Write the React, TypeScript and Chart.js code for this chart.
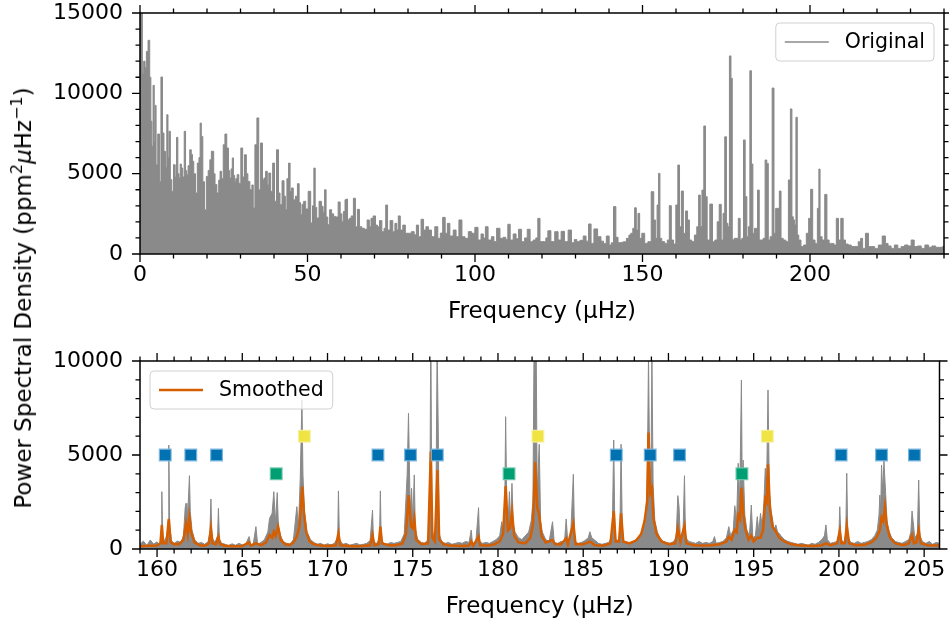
import React, { useEffect, useRef } from 'react';
import { Chart, registerables } from 'chart.js';

Chart.register(...registerables);

const FONT = "'DejaVu Sans', sans-serif";
const GRAY = '#8a8a8a';
const ORANGE = '#d55e00';
const BLUE = '#0072b2';
const YELLOW = '#f0e442';
const GREEN = '#009e73';

// ---------- Top panel: original spectrum, [frequency µHz, PSD] ----------
const TOP_SPECTRUM_LOW: [number, number][] = [
  [0, 16000], [0.5, 15500], [0.9, 11200], [1.3, 12000], [1.7, 11600], [2.1, 12600], [2.7, 13300], [3.1, 11000],
  [3.4, 8260], [3.7, 6700], [4.1, 10500], [4.4, 7000], [4.6, 9250], [5.0, 5560], [5.6, 7470], [6.0, 4520],
  [6.5, 11020], [6.9, 7530], [7.4, 6390], [7.8, 5400], [8.2, 8670], [8.5, 6000], [8.8, 7640], [9.3, 4630],
  [9.7, 3900], [10.3, 5560], [10.7, 4800], [11.1, 7260], [11.5, 5000], [11.8, 4730], [12.2, 5600], [12.5, 5350],
  [13.0, 4800], [13.4, 7640], [13.8, 5200], [14.1, 4940], [14.6, 5500], [15.1, 6490], [15.5, 6200], [15.8, 5770],
  [16.3, 5000], [16.8, 3800], [17.4, 5660], [17.8, 6000], [18.1, 8150], [18.5, 7320], [19.0, 4500], [19.5, 2760],
  [20.1, 4830], [20.6, 5200], [21.1, 5870], [21.5, 6400], [21.8, 6390], [22.2, 5000], [22.6, 4320], [23.3, 3800],
  [23.7, 4600], [24.1, 5150], [24.6, 4700], [25.1, 6800], [25.6, 7470], [26.2, 6600], [26.6, 5200], [27.0, 4730],
  [27.4, 5300], [27.7, 5980], [28.1, 4900], [28.4, 4520], [28.8, 4700], [29.2, 4940], [29.8, 4400], [30.4, 6600],
  [30.9, 4800], [31.5, 6180], [32.0, 5000], [32.4, 4520], [33.2, 4000], [33.6, 4300], [34.0, 2860], [34.6, 6800],
  [35.2, 8470], [35.7, 4000], [36.3, 6910], [36.8, 4600], [37.2, 4730], [37.8, 5150], [38.2, 4300], [38.7, 5040],
  [39.3, 3900], [39.9, 5660], [40.4, 3280], [41.1, 6490], [41.6, 3800], [42.0, 3070], [42.8, 4560], [43.2, 3600],
  [43.6, 2760], [44.1, 4690], [44.6, 5660], [45.0, 3900], [45.4, 4110], [46.1, 3380], [46.7, 3600], [47.3, 4380],
  [47.7, 3200], [48.1, 2450], [48.6, 3100], [49.1, 3280], [49.8, 2800], [50.6, 3900], [51.3, 1930], [51.7, 3000],
  [52.1, 5350], [52.5, 2900], [53.0, 2240], [53.9, 3280], [54.4, 2970], [54.9, 2600], [55.3, 4000], [55.8, 2300],
  [56.3, 1830], [56.9, 2760], [57.5, 2500], [58.1, 2340], [58.8, 2300], [59.5, 3240], [60.0, 2500], [60.5, 2030],
  [60.9, 2640], [61.5, 3380], [61.7, 3420], [62.2, 2120], [62.7, 2220],
];

const TOP_SPECTRUM_MID: [number, number][] = [
  [63.4, 2370], [64.0, 3470], [64.6, 1700], [65.2, 2780], [65.8, 1700], [66.6, 1600], [67.4, 1540], [68.2, 2120],
  [68.7, 1700], [69.2, 2220], [70.0, 2370], [70.6, 1800], [71.2, 1700], [71.8, 2080], [72.6, 1390], [73.1, 1600],
  [73.6, 3050], [74.2, 1490], [75.1, 2080], [75.8, 1390], [76.4, 1910], [76.9, 1500], [77.3, 2370], [78.1, 1490],
  [78.8, 1800], [79.6, 1290], [80.5, 1290], [81.5, 1390], [82.2, 1200], [82.8, 1800], [83.5, 1080], [84.3, 2160],
  [85.0, 1490], [85.7, 1700], [86.5, 1490], [87.5, 1080], [88.5, 1700], [89.3, 975], [90.0, 1300], [90.7, 2280],
  [91.5, 1290], [92.0, 1910], [93.0, 1120], [94.0, 1490], [94.7, 1080], [95.7, 2120], [96.5, 1080], [97.5, 975],
  [98.5, 1390], [99.5, 1290], [100.4, 1660], [101.4, 870], [102.2, 1250], [102.8, 1000], [103.4, 1700], [104.4, 870],
  [105.4, 1080], [105.9, 770], [107.0, 1600], [107.9, 975], [108.9, 1040], [109.5, 900], [110.1, 1850], [110.9, 870],
  [111.9, 1250], [112.6, 950], [113.4, 1540], [114.4, 770], [115.2, 1000], [116.0, 1540], [116.9, 770], [117.8, 870],
  [118.5, 1000], [119.0, 2220], [119.8, 770], [120.8, 770], [121.5, 1000], [122.0, 1450], [123.3, 770], [124.3, 1390],
  [125.3, 870], [126.1, 1410], [127.3, 770], [128.3, 1490], [129.3, 705], [130.0, 900], [130.8, 770], [131.8, 850],
  [132.8, 1120], [133.5, 800], [134.3, 1870], [135.0, 660], [136.0, 1560], [137.2, 1080], [138.0, 800], [138.7, 660],
  [139.7, 1120], [140.4, 560], [141.0, 700], [141.7, 2950], [142.4, 1040],
];

const TOP_SPECTRUM_HIGH: [number, number][] = [
  [143.0, 700], [143.8, 720], [144.7, 760], [145.7, 975], [146.2, 1180], [146.8, 1290], [147.4, 1600], [147.9, 2880],
  [148.4, 1490], [148.9, 2530], [149.4, 975], [150.2, 1290], [151.1, 660], [152.1, 770], [153.1, 3880], [153.6, 2120],
  [154.1, 975], [154.6, 3050], [155.0, 5020], [155.4, 975], [156.1, 770], [157.1, 660], [157.7, 870], [158.3, 3010],
  [158.9, 870], [159.6, 620], [160.3, 3050], [160.8, 5540], [161.3, 1700], [161.9, 3920], [162.5, 1290], [163.2, 2680],
  [163.7, 2120], [164.3, 870], [165.1, 770], [165.9, 1180], [166.5, 1700], [167.0, 3670], [167.5, 1700], [168.0, 3980],
  [168.6, 7970], [169.0, 3570], [169.6, 870], [170.6, 3110], [171.2, 770], [172.0, 870], [172.6, 2010], [173.2, 3090],
  [173.8, 870], [174.3, 2530], [174.8, 7300], [175.3, 1910], [175.7, 1700], [176.2, 12330], [176.6, 10940], [177.0, 870],
  [177.7, 975], [178.3, 975], [178.9, 2220], [179.4, 870], [179.9, 975], [180.4, 7100], [180.9, 3570], [181.4, 1080],
  [181.8, 1700], [182.3, 11410], [182.7, 5600], [183.2, 1290], [183.7, 1600], [184.1, 1600], [184.6, 3980], [185.1, 870],
  [185.7, 870], [186.3, 975], [186.9, 5850], [187.3, 5640], [187.8, 870], [188.4, 1080], [189.0, 10330], [189.5, 1290],
  [190.0, 2840], [190.6, 2840], [191.1, 3920], [191.6, 975], [192.4, 870], [193.2, 770], [193.9, 4610], [194.4, 9030],
  [194.8, 2320], [195.2, 2120], [195.6, 1810], [196.0, 8510], [196.4, 1180], [196.9, 870], [197.7, 460], [198.5, 560],
  [199.3, 1290], [199.9, 2220], [200.5, 4030], [201.1, 870], [201.9, 660], [202.5, 2840], [202.8, 5290], [203.2, 1080],
  [204.0, 870], [204.8, 3710], [205.3, 870], [206.1, 660], [206.8, 660], [207.5, 560], [208.2, 2220], [208.8, 870],
  [209.6, 2220], [210.2, 870], [211.0, 620], [211.8, 560], [212.8, 460], [214.0, 460], [214.8, 770], [215.4, 975],
  [216.0, 350], [217.1, 1290], [217.8, 460], [218.8, 460], [219.8, 350], [221.0, 560], [222.1, 1120], [222.9, 660],
  [223.7, 500], [224.7, 350], [225.7, 560], [226.7, 350], [227.7, 460], [228.8, 560], [229.7, 500], [230.7, 870],
  [231.5, 460], [232.7, 500], [233.7, 350], [234.9, 560], [235.9, 420], [236.9, 500], [238.1, 415], [239.1, 415],
  [240, 460],
];

// ---------- Bottom panel: zoom on the oscillation modes ----------
const ZOOM_ORIGINAL: [number, number][] = [
  [159.0, 250], [159.2, 420], [159.4, 180], [159.6, 480], [159.8, 260], [160.0, 380], [160.15, 200], [160.24, 600],
  [160.28, 3050], [160.33, 700], [160.45, 400], [160.6, 800], [160.65, 1500], [160.69, 5530], [160.74, 1200], [160.85, 450],
  [161.0, 300], [161.2, 420], [161.4, 350], [161.55, 700], [161.65, 2200], [161.7, 2430], [161.75, 1500], [161.82, 2250],
  [161.9, 3900], [161.95, 1990], [162.05, 1000], [162.2, 500], [162.4, 300], [162.6, 350], [162.8, 250], [163.0, 400],
  [163.1, 900], [163.16, 2660], [163.22, 600], [163.4, 350], [163.55, 700], [163.6, 2160], [163.66, 500], [163.8, 300],
  [164.0, 250], [164.2, 180], [164.4, 280], [164.6, 200], [164.8, 300], [165.0, 220], [165.2, 250], [165.4, 660],
  [165.5, 200], [165.65, 300], [165.8, 1190], [165.9, 250], [166.1, 350], [166.3, 500], [166.5, 900], [166.6, 1630],
  [166.75, 1900], [166.85, 3050], [166.95, 1400], [167.05, 3000], [167.12, 1200], [167.25, 700], [167.4, 400], [167.6, 300],
  [167.8, 250], [168.0, 500], [168.2, 2250], [168.3, 1200], [168.4, 3760], [168.5, 7930], [168.56, 3940], [168.65, 2000],
  [168.8, 900], [169.0, 500], [169.2, 350], [169.4, 250], [169.6, 300], [169.8, 200], [170.0, 280], [170.2, 220],
  [170.4, 300], [170.6, 600], [170.64, 3090], [170.7, 500], [170.9, 250], [171.1, 300], [171.3, 200], [171.5, 250],
  [171.7, 300], [171.9, 220], [172.1, 250], [172.3, 300], [172.5, 450], [172.64, 2070], [172.7, 350], [172.9, 300],
  [173.05, 600], [173.1, 3090], [173.15, 500], [173.3, 300], [173.5, 250], [173.7, 350], [173.9, 300], [174.1, 350],
  [174.3, 400], [174.5, 800], [174.67, 3940], [174.75, 7220], [174.85, 2000], [174.93, 3230], [175.0, 1500], [175.09, 3940],
  [175.15, 1000], [175.3, 500], [175.5, 350], [175.7, 300], [175.9, 500], [176.0, 1500], [176.06, 12300], [176.12, 1200],
  [176.25, 500], [176.35, 1000], [176.43, 10900], [176.5, 6060], [176.55, 800], [176.7, 400], [176.9, 300], [177.1, 350],
  [177.3, 250], [177.5, 300], [177.7, 350], [177.9, 300], [178.1, 400], [178.3, 350], [178.43, 1010], [178.5, 300],
  [178.7, 350], [178.86, 2200], [178.92, 400], [179.1, 300], [179.3, 350], [179.5, 300], [179.7, 400], [179.9, 500],
  [180.1, 700], [180.22, 1450], [180.3, 900], [180.4, 2500], [180.45, 7040], [180.52, 2000], [180.6, 1500], [180.67, 3050],
  [180.74, 1200], [180.82, 3490], [180.9, 1300], [181.0, 900], [181.2, 600], [181.4, 500], [181.6, 700], [181.8, 900],
  [181.95, 1500], [182.05, 2500], [182.12, 11400], [182.18, 11400], [182.24, 11000], [182.3, 3000], [182.42, 5570], [182.5, 1500],
  [182.6, 900], [182.8, 500], [183.0, 400], [183.2, 1450], [183.3, 350], [183.5, 300], [183.7, 400], [183.9, 350],
  [184.0, 1600], [184.1, 300], [184.25, 400], [184.42, 3970], [184.5, 400], [184.7, 300], [184.9, 350], [185.1, 450],
  [185.3, 600], [185.39, 920], [185.5, 600], [185.7, 450], [185.9, 300], [186.1, 250], [186.3, 300], [186.5, 350],
  [186.7, 700], [186.79, 5800], [186.86, 600], [187.0, 400], [187.15, 700], [187.22, 5570], [187.3, 500], [187.5, 350],
  [187.7, 300], [187.9, 400], [188.1, 500], [188.3, 700], [188.5, 1000], [188.65, 1800], [188.75, 3000], [188.83, 10330],
  [188.9, 4000], [188.97, 3500], [189.03, 10300], [189.1, 3400], [189.2, 1500], [189.35, 900], [189.5, 600], [189.7, 400],
  [189.9, 350], [190.1, 300], [190.3, 400], [190.45, 600], [190.55, 2840], [190.62, 2250], [190.7, 500], [190.85, 700],
  [190.94, 3900], [191.0, 600], [191.2, 400], [191.4, 350], [191.6, 300], [191.8, 400], [192.0, 300], [192.2, 350],
  [192.4, 300], [192.6, 400], [192.7, 660], [192.8, 300], [193.0, 350], [193.2, 400], [193.4, 600], [193.54, 1190],
  [193.65, 700], [193.8, 1000], [193.89, 2300], [194.0, 1500], [194.09, 4560], [194.18, 2500], [194.28, 8990], [194.33, 3000],
  [194.38, 4730], [194.48, 1800], [194.6, 1000], [194.75, 700], [194.86, 2340], [194.95, 600], [195.1, 700], [195.21, 1720],
  [195.3, 900], [195.4, 1900], [195.5, 1200], [195.6, 2500], [195.68, 4290], [195.76, 3500], [195.84, 8460], [195.92, 3000],
  [196.03, 1990], [196.12, 1500], [196.2, 1000], [196.3, 1280], [196.4, 900], [196.5, 830], [196.6, 700], [196.8, 500],
  [197.0, 400], [197.2, 350], [197.4, 300], [197.6, 250], [197.8, 300], [198.0, 250], [198.2, 200], [198.4, 300],
  [198.6, 250], [198.8, 350], [199.0, 500], [199.15, 700], [199.24, 1280], [199.32, 500], [199.5, 300], [199.7, 350],
  [199.9, 400], [200.0, 800], [200.05, 2250], [200.12, 500], [200.3, 350], [200.4, 800], [200.46, 4030], [200.52, 600],
  [200.7, 350], [200.9, 300], [201.1, 400], [201.3, 300], [201.5, 350], [201.7, 400], [201.9, 500], [202.1, 700],
  [202.25, 1000], [202.35, 1800], [202.4, 2870], [202.45, 2000], [202.5, 4470], [202.57, 3000], [202.64, 4680], [202.74, 2960],
  [202.82, 1500], [202.95, 900], [203.1, 600], [203.3, 400], [203.5, 350], [203.7, 300], [203.9, 400], [204.1, 500],
  [204.22, 900], [204.29, 2020], [204.35, 1500], [204.45, 600], [204.6, 800], [204.68, 3670], [204.75, 700], [204.9, 400],
  [205.1, 300], [205.3, 400], [205.5, 250], [205.7, 350], [205.9, 300],
];

const ZOOM_SMOOTHED: [number, number][] = [
  [159.0, 150], [159.5, 170], [160.0, 180], [160.2, 300], [160.28, 1280], [160.36, 300], [160.55, 300], [160.69, 1600],
  [160.8, 350], [161.0, 250], [161.3, 250], [161.55, 500], [161.7, 1370], [161.8, 800], [161.9, 1680], [162.0, 900],
  [162.2, 350], [162.5, 200], [162.8, 180], [163.05, 300], [163.16, 1100], [163.26, 300], [163.45, 250], [163.6, 660],
  [163.7, 250], [164.0, 170], [164.5, 150], [165.0, 160], [165.4, 355], [165.5, 180], [165.8, 300], [166.1, 200],
  [166.4, 350], [166.6, 745], [166.75, 600], [166.85, 920], [166.95, 700], [167.1, 1190], [167.25, 500], [167.5, 250],
  [167.8, 220], [168.0, 350], [168.2, 660], [168.35, 1200], [168.52, 3320], [168.62, 1900], [168.75, 900], [168.95, 400],
  [169.2, 250], [169.6, 180], [170.0, 160], [170.5, 200], [170.64, 830], [170.75, 200], [171.5, 150], [172.0, 160],
  [172.5, 200], [172.64, 745], [172.75, 200], [173.0, 250], [173.1, 1190], [173.2, 300], [173.6, 200], [174.0, 200],
  [174.4, 300], [174.6, 800], [174.76, 2870], [174.9, 1200], [175.0, 1100], [175.09, 1630], [175.2, 500], [175.5, 250],
  [175.9, 300], [176.06, 5180], [176.15, 600], [176.3, 400], [176.45, 4200], [176.55, 500], [176.8, 250], [177.2, 180],
  [177.8, 160], [178.3, 180], [178.43, 400], [178.55, 180], [178.86, 660], [178.95, 200], [179.4, 180], [179.8, 250],
  [180.1, 400], [180.3, 800], [180.45, 3350], [180.58, 1000], [180.7, 1100], [180.82, 1990], [180.95, 700], [181.2, 350],
  [181.6, 300], [181.9, 600], [182.05, 1300], [182.18, 4610], [182.3, 2200], [182.42, 1810], [182.55, 700], [182.8, 350],
  [183.2, 480], [183.35, 250], [183.7, 250], [184.0, 570], [184.1, 250], [184.42, 1370], [184.55, 250], [185.0, 250],
  [185.39, 390], [185.7, 200], [186.2, 180], [186.6, 300], [186.79, 2020], [186.9, 400], [187.1, 400], [187.22, 1900],
  [187.35, 400], [187.7, 300], [188.1, 450], [188.4, 800], [188.6, 1500], [188.75, 2500], [188.83, 6200], [188.93, 3000],
  [189.03, 3230], [189.12, 1630], [189.3, 800], [189.6, 400], [190.0, 250], [190.4, 300], [190.55, 1100], [190.7, 400],
  [190.94, 1240], [191.05, 300], [191.5, 200], [192.0, 180], [192.5, 200], [193.0, 250], [193.4, 400], [193.54, 660],
  [193.7, 500], [193.89, 1010], [194.0, 900], [194.09, 1810], [194.2, 1600], [194.28, 3260], [194.38, 1990], [194.5, 1100],
  [194.7, 500], [194.86, 710], [195.0, 400], [195.21, 600], [195.4, 600], [195.55, 1000], [195.68, 2660], [195.76, 2500],
  [195.84, 4500], [195.95, 2160], [196.1, 1200], [196.3, 920], [196.5, 600], [196.8, 400], [197.2, 250], [197.8, 180],
  [198.5, 160], [199.0, 200], [199.24, 300], [199.5, 200], [199.9, 300], [200.05, 960], [200.15, 300], [200.35, 300],
  [200.46, 1240], [200.6, 300], [201.0, 200], [201.5, 220], [201.9, 350], [202.2, 600], [202.4, 1000], [202.5, 1670],
  [202.6, 1500], [202.7, 2250], [202.8, 1280], [203.0, 600], [203.3, 300], [203.8, 200], [204.1, 300], [204.29, 745],
  [204.4, 300], [204.55, 350], [204.68, 1010], [204.8, 300], [205.2, 200], [205.9, 180],
];

// Mode markers (frequency, drawn at a fixed height per group)
const MODE_BLUE_FREQS = [160.48, 161.98, 163.49, 172.96, 174.87, 176.44, 186.94, 188.93, 190.65, 200.13, 202.5, 204.43];
const MODE_BLUE_LEVEL = 5000;
const MODE_YELLOW_FREQS = [168.64, 182.34, 195.8];
const MODE_YELLOW_LEVEL = 6000;
const MODE_GREEN_FREQS = [166.99, 180.65, 194.31];
const MODE_GREEN_LEVEL = 4000;

// Axes
const TOP_X_TICKS = [0, 50, 100, 150, 200];
const TOP_Y_TICKS = [0, 5000, 10000, 15000];
const ZOOM_X_TICKS = [160, 165, 170, 175, 180, 185, 190, 195, 200, 205];
const ZOOM_Y_TICKS = [0, 5000, 10000];

const range = (a: number, b: number, s: number) => {
  const out: number[] = [];
  for (let v = a; v <= b + 1e-9; v += s) out.push(Math.round(v * 1000) / 1000);
  return out;
};

const toXY = (pairs: [number, number][]) => pairs.map(([x, y]) => ({ x, y }));

const frameTicksPlugin = {
  id: 'frameTicks',
  afterDraw(chart: any, _args: any, opts: any) {
    const { ctx, chartArea, scales } = chart;
    const { left, right, top, bottom } = chartArea;
    const xs = scales.x;
    const ys = scales.y;
    ctx.save();
    ctx.strokeStyle = '#000';
    ctx.lineWidth = 1.3;
    ctx.beginPath();
    const drawX = (vals: number[], len: number) => {
      vals.forEach((v) => {
        const p = xs.getPixelForValue(v);
        if (p < left - 0.5 || p > right + 0.5) return;
        ctx.moveTo(p, bottom); ctx.lineTo(p, bottom + len);
        ctx.moveTo(p, top); ctx.lineTo(p, top - len);
      });
    };
    const drawY = (vals: number[], len: number) => {
      vals.forEach((v) => {
        const p = ys.getPixelForValue(v);
        if (p < top - 0.5 || p > bottom + 0.5) return;
        ctx.moveTo(left, p); ctx.lineTo(left - len, p);
        ctx.moveTo(right, p); ctx.lineTo(right + len, p);
      });
    };
    drawX(opts.xMinor, 4.5);
    drawY(opts.yMinor, 4.5);
    drawX(opts.xMajor, 8);
    drawY(opts.yMajor, 8);
    ctx.stroke();
    ctx.lineWidth = 1.5;
    ctx.strokeRect(left, top, right - left, bottom - top);
    ctx.restore();
  },
};

const insideLegendPlugin = {
  id: 'insideLegend',
  afterDatasetsDraw(chart: any, _args: any, opts: any) {
    const { ctx, chartArea } = chart;
    const ds = chart.data.datasets[opts.datasetIndex];
    ctx.save();
    ctx.font = `20.5px ${FONT}`;
    const tw = ctx.measureText(ds.label).width;
    const w = 9 + 44 + 16 + tw + 9;
    const h = 38;
    const x = opts.align === 'right' ? chartArea.right - 10 - w : chartArea.left + 10;
    const y = chartArea.top + 10;
    const r = 4;
    ctx.beginPath();
    ctx.moveTo(x + r, y);
    ctx.lineTo(x + w - r, y);
    ctx.arcTo(x + w, y, x + w, y + r, r);
    ctx.lineTo(x + w, y + h - r);
    ctx.arcTo(x + w, y + h, x + w - r, y + h, r);
    ctx.lineTo(x + r, y + h);
    ctx.arcTo(x, y + h, x, y + h - r, r);
    ctx.lineTo(x, y + r);
    ctx.arcTo(x, y, x + r, y, r);
    ctx.closePath();
    ctx.fillStyle = 'rgba(255,255,255,0.8)';
    ctx.fill();
    ctx.strokeStyle = '#d0d0d0';
    ctx.lineWidth = 1;
    ctx.stroke();
    ctx.beginPath();
    ctx.moveTo(x + 9, y + h / 2);
    ctx.lineTo(x + 53, y + h / 2);
    ctx.strokeStyle = ds.borderColor;
    ctx.lineWidth = opts.lineWidth;
    ctx.stroke();
    ctx.fillStyle = '#000';
    ctx.textBaseline = 'middle';
    ctx.textAlign = 'left';
    ctx.fillText(ds.label, x + 69, y + h / 2 + 1);
    ctx.restore();
  },
};

const tickFont = { family: FONT, size: 22 };
const titleFont = { family: FONT, size: 23 };

function xScale(min: number, max: number, ticks: number[]) {
  return {
    type: 'linear',
    min,
    max,
    grid: { display: false, drawTicks: false },
    border: { display: false },
    ticks: { font: tickFont, color: '#000', padding: 8, maxRotation: 0, autoSkip: false, callback: (v: any) => String(v) },
    afterBuildTicks: (s: any) => { s.ticks = ticks.map((value) => ({ value })); },
    afterFit: (s: any) => { s.height = 76; s.paddingLeft = 0; s.paddingRight = 0; },
    title: { display: true, text: 'Frequency (μHz)', font: titleFont, color: '#000', padding: { top: 0, bottom: 4 } },
  };
}

function yScale(min: number, max: number, ticks: number[]) {
  return {
    type: 'linear',
    min,
    max,
    grid: { display: false, drawTicks: false },
    border: { display: false },
    ticks: { font: tickFont, color: '#000', padding: 17, autoSkip: false, callback: (v: any) => String(v) },
    afterBuildTicks: (s: any) => { s.ticks = ticks.map((value) => ({ value })); },
    afterFit: (s: any) => { s.width = 140; s.paddingTop = 0; s.paddingBottom = 0; },
  };
}

function markerDataset(freqs: number[], level: number, color: string, edge: string) {
  return {
    type: 'scatter',
    label: '',
    data: freqs.map((f) => ({ x: f, y: level })),
    pointStyle: 'rect',
    pointRadius: 8.3,
    pointBackgroundColor: color,
    pointBorderColor: edge,
    pointBorderWidth: 1.2,
    showLine: false,
    order: 1,
  };
}

export default function App() {
  const topRef = useRef<HTMLCanvasElement>(null);
  const botRef = useRef<HTMLCanvasElement>(null);

  useEffect(() => {
    Chart.defaults.font.family = FONT;
    const topChart = new Chart(topRef.current as HTMLCanvasElement, {
      type: 'line',
      data: {
        datasets: [
          {
            label: 'Original',
            data: toXY([...TOP_SPECTRUM_LOW, ...TOP_SPECTRUM_MID, ...TOP_SPECTRUM_HIGH]),
            borderColor: GRAY,
            backgroundColor: GRAY,
            borderWidth: 1,
            pointRadius: 0,
            stepped: 'middle',
            fill: 'origin',
          },
        ],
      },
      options: {
        responsive: false,
        animation: false,
        events: [],
        layout: { padding: { left: 0, top: 13, right: 5, bottom: 0 } },
        plugins: {
          legend: { display: false },
          tooltip: { enabled: false },
          insideLegend: { datasetIndex: 0, align: 'right', lineWidth: 1.3 },
          frameTicks: { xMajor: TOP_X_TICKS, xMinor: range(0, 240, 10), yMajor: TOP_Y_TICKS, yMinor: range(0, 15000, 1000) },
        } as any,
        scales: { x: xScale(0, 240, TOP_X_TICKS), y: yScale(0, 15000, TOP_Y_TICKS) } as any,
      },
      plugins: [frameTicksPlugin, insideLegendPlugin],
    } as any);

    const botChart = new Chart(botRef.current as HTMLCanvasElement, {
      type: 'line',
      data: {
        datasets: [
          markerDataset(MODE_BLUE_FREQS, MODE_BLUE_LEVEL, BLUE, 'rgba(120,180,220,0.9)'),
          markerDataset(MODE_YELLOW_FREQS, MODE_YELLOW_LEVEL, YELLOW, 'rgba(245,240,160,0.9)'),
          markerDataset(MODE_GREEN_FREQS, MODE_GREEN_LEVEL, GREEN, 'rgba(110,200,170,0.9)'),
          {
            label: 'Smoothed',
            data: toXY(ZOOM_SMOOTHED),
            borderColor: ORANGE,
            borderWidth: 2.5,
            pointRadius: 0,
            tension: 0,
            fill: false,
            order: 2,
          },
          {
            label: 'Original',
            data: toXY(ZOOM_ORIGINAL),
            borderColor: GRAY,
            backgroundColor: GRAY,
            borderWidth: 1,
            pointRadius: 0,
            tension: 0,
            fill: 'origin',
            order: 3,
          },
        ],
      },
      options: {
        responsive: false,
        animation: false,
        events: [],
        layout: { padding: { left: 0, top: 31, right: 5, bottom: 0 } },
        plugins: {
          legend: { display: false },
          tooltip: { enabled: false },
          insideLegend: { datasetIndex: 3, align: 'left', lineWidth: 2.5 },
          frameTicks: { xMajor: ZOOM_X_TICKS, xMinor: range(159, 205, 1), yMajor: ZOOM_Y_TICKS, yMinor: range(0, 10000, 1000) },
        } as any,
        scales: { x: xScale(159, 205.9, ZOOM_X_TICKS), y: yScale(0, 10000, ZOOM_Y_TICKS) } as any,
      },
      plugins: [frameTicksPlugin, insideLegendPlugin],
    } as any);

    return () => {
      topChart.destroy();
      botChart.destroy();
    };
  }, []);

  return (
    <div style={{ position: 'fixed', left: 0, top: 0, width: 949, height: 625, background: '#fff', overflow: 'hidden' }}>
      <canvas ref={topRef} width={949} height={330} style={{ position: 'absolute', left: 0, top: 0, width: 949, height: 330 }} />
      <canvas ref={botRef} width={949} height={295} style={{ position: 'absolute', left: 0, top: 330, width: 949, height: 295 }} />
      <div
        style={{
          position: 'absolute',
          left: 23,
          top: 297.5,
          transform: 'translate(-50%, -50%) rotate(-90deg)',
          whiteSpace: 'nowrap',
          fontFamily: FONT,
          fontSize: 23,
          lineHeight: '28px',
          color: '#000',
        }}
      >
        Power Spectral Density (ppm<sup style={{ fontSize: 16, lineHeight: 0 }}>2</sup>
        <i>μ</i>Hz<sup style={{ fontSize: 16, lineHeight: 0 }}>−1</sup>)
      </div>
    </div>
  );
}
